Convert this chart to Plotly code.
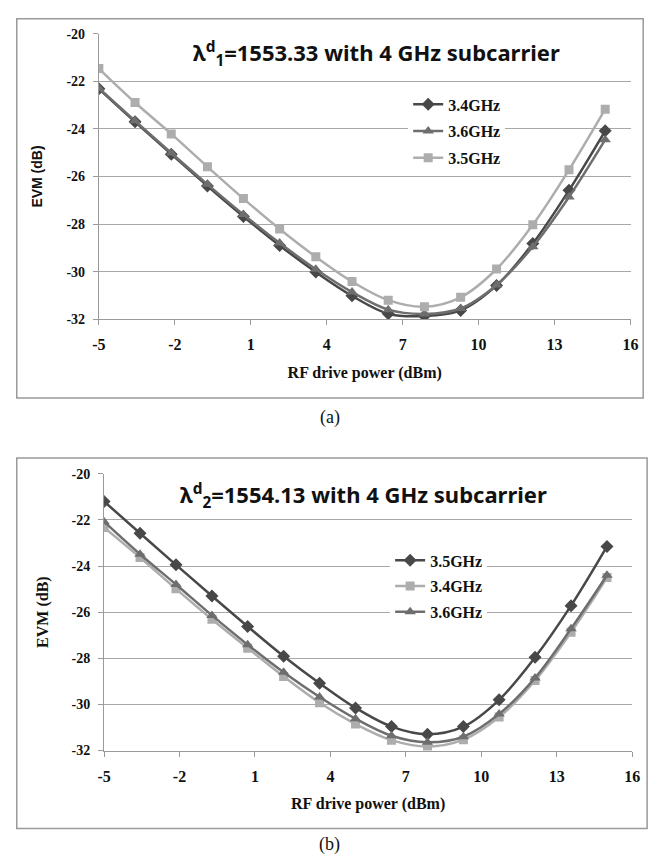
import plotly.graph_objects as go

# RF drive power (dBm), same points for both panels
power = [-5, -3.57, -2.14, -0.71, 0.71, 2.14, 3.57, 5.0, 6.43, 7.86, 9.29, 10.71, 12.14, 13.57, 15.0]

# (a) lambda d1 = 1553.33
a_34 = [-22.31, -23.70, -25.06, -26.40, -27.68, -28.90, -30.02, -31.02, -31.77, -31.87, -31.63, -30.58, -28.82, -26.58, -24.08]
a_36 = [-22.29, -23.66, -25.01, -26.33, -27.60, -28.80, -29.90, -30.86, -31.60, -31.78, -31.55, -30.56, -28.95, -26.86, -24.45]
a_35 = [-21.46, -22.89, -24.21, -25.59, -26.93, -28.21, -29.38, -30.42, -31.20, -31.48, -31.08, -29.89, -28.03, -25.72, -23.17]

# (b) lambda d2 = 1554.13
b_35 = [-21.20, -22.58, -23.95, -25.30, -26.62, -27.91, -29.08, -30.15, -30.96, -31.29, -30.96, -29.80, -27.96, -25.72, -23.15]
b_34 = [-22.33, -23.63, -24.99, -26.31, -27.56, -28.79, -29.93, -30.85, -31.55, -31.83, -31.53, -30.55, -28.96, -26.87, -24.50]
b_36 = [-22.08, -23.49, -24.80, -26.14, -27.41, -28.61, -29.68, -30.62, -31.36, -31.64, -31.40, -30.42, -28.85, -26.72, -24.40]

# tick labels (plain hyphen as in the original)
x_ticks = [-5, -2, 1, 4, 7, 10, 13, 16]
x_labels = ["-5", "-2", "1", "4", "7", "10", "13", "16"]
y_ticks = [-32, -30, -28, -26, -24, -22, -20]
y_labels = ["-32", "-30", "-28", "-26", "-24", "-22", "-20"]

DARK = "#484848"
MID = "#6e6e6e"
LIGHT = "#adadad"
TIMES = "Liberation Serif, Times New Roman, serif"

fig = go.Figure()


def add(y, name, color, symbol, size, xa, ya, leg):
    fig.add_trace(go.Scatter(
        x=power, y=y, name=name, mode="lines+markers",
        line=dict(color=color, width=2.5, shape="spline"),
        marker=dict(color=color, symbol=symbol, size=size),
        xaxis=xa, yaxis=ya, legend=leg, legendgroup=leg + name))


add(a_34, "3.4GHz", DARK, "diamond", 10, "x", "y", "legend")
add(a_36, "3.6GHz", MID, "triangle-up", 10, "x", "y", "legend")
add(a_35, "3.5GHz", LIGHT, "square", 9, "x", "y", "legend")

add(b_35, "3.5GHz", DARK, "diamond", 10, "x2", "y2", "legend2")
add(b_34, "3.4GHz", LIGHT, "square", 9, "x2", "y2", "legend2")
add(b_36, "3.6GHz", MID, "triangle-up", 10, "x2", "y2", "legend2")

xax = dict(range=[-5, 16], tickvals=x_ticks, ticktext=x_labels, showgrid=False,
           showline=True, linecolor="#9a9a9a", linewidth=1, ticks="outside",
           ticklen=5, tickcolor="#9a9a9a", zeroline=False, ticklabelstandoff=6,
           tickfont=dict(family=TIMES, size=16, color="#111", weight="bold"),
           title=dict(text="RF drive power (dBm)", standoff=14,
                      font=dict(family=TIMES, size=16, color="#111", weight="bold")))
yax = dict(range=[-32, -20], tickvals=y_ticks, ticktext=y_labels, showgrid=True,
           gridcolor="#a8a8a8", gridwidth=1, showline=True, linecolor="#9a9a9a",
           ticks="outside", ticklen=5, tickcolor="#9a9a9a", zeroline=False,
           ticklabelstandoff=5,
           tickfont=dict(family=TIMES, size=14, color="#111", weight="bold"))

leg_font = dict(family=TIMES, size=16, color="#111", weight="bold")

fig.update_layout(
    width=660, height=861, margin=dict(l=0, r=0, t=0, b=0),
    paper_bgcolor="white", plot_bgcolor="white", showlegend=True,
    xaxis=dict(xax, domain=[0.1424, 0.9667], anchor="y"),
    yaxis=dict(yax, domain=[0.6310, 0.9683], anchor="x",
               title=dict(text="EVM (dB)", standoff=20,
                          font=dict(family="Liberation Sans, Arial", size=14,
                                    color="#111", weight="bold"))),
    xaxis2=dict(xax, domain=[0.1505, 0.9692], anchor="y2"),
    yaxis2=dict(yax, domain=[0.1211, 0.4483], anchor="x2",
                title=dict(text="EVM (dB)", standoff=18,
                           font=dict(family=TIMES, size=16, color="#111", weight="bold"))),
    legend=dict(x=0.622, y=0.905, xanchor="left", yanchor="top", bgcolor="white",
                itemwidth=30, tracegroupgap=3, font=leg_font),
    legend2=dict(x=0.594, y=0.366, xanchor="left", yanchor="top", bgcolor="white",
                 itemwidth=30, tracegroupgap=2, font=leg_font),
)

title_font = dict(family="Noto Sans, Open Sans, sans-serif", size=22, color="#111",
                  weight="bold")
fig.add_annotation(x=0.573, y=1 - 47 / 861, xref="paper", yref="paper",
                   xanchor="center", yanchor="middle",
                   text="λ<sup>d</sup><sub>1</sub>=1553.33 with 4 GHz subcarrier",
                   showarrow=False, font=title_font)
fig.add_annotation(x=0.552, y=1 - 497 / 861, xref="paper", yref="paper",
                   xanchor="center", yanchor="middle",
                   text="λ<sup>d</sup><sub>2</sub>=1554.13 with 4 GHz subcarrier",
                   showarrow=False, font=title_font)

cap_font = dict(family=TIMES, size=18, color="#111")
fig.add_annotation(x=0.5, y=1 - 418 / 861, xref="paper", yref="paper", text="(a)",
                   xanchor="center", yanchor="middle", showarrow=False, font=cap_font)
fig.add_annotation(x=0.5, y=1 - 852 / 861, xref="paper", yref="paper", text="(b)",
                   xanchor="center", yanchor="middle", showarrow=False, font=cap_font)

# outer frames of the two panels
fig.add_shape(type="rect", xref="paper", yref="paper", x0=10 / 660, x1=651 / 660,
              y0=1 - 398 / 861, y1=1 - 12 / 861, line=dict(color="#9a9a9a", width=1.5))
fig.add_shape(type="rect", xref="paper", yref="paper", x0=10 / 660, x1=655 / 660,
              y0=1 - 836 / 861, y1=1 - 459 / 861, line=dict(color="#9a9a9a", width=1.5))

# drop the default page margin so the figure sits at the window's top-left corner
fig.write_html("out.html", config={"displayModeBar": False},
               post_script="document.body.style.margin = '0';")
